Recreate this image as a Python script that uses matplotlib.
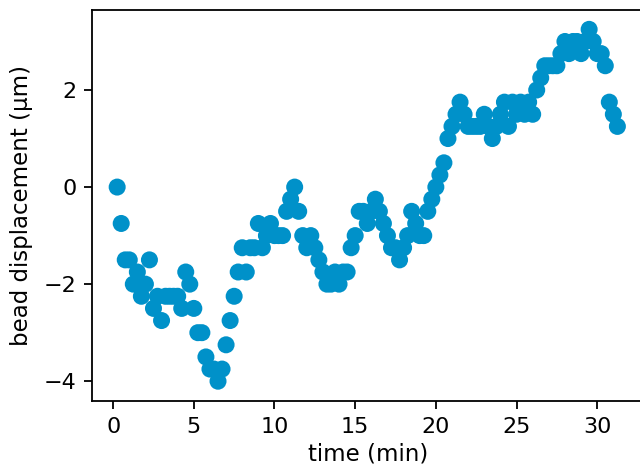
import matplotlib
matplotlib.use("Agg")
import matplotlib.pyplot as plt

time_min = [0.25, 0.5, 0.75, 1.0, 1.25, 1.5, 1.75, 2.0, 2.25, 2.5, 2.75, 3.0, 3.25, 3.5, 3.75, 4.0,
            4.25, 4.5, 4.75, 5.0, 5.25, 5.5, 5.75, 6.0, 6.25, 6.5, 6.75, 7.0, 7.25, 7.5, 7.75, 8.0,
            8.25, 8.5, 8.75, 9.0, 9.25, 9.5, 9.75, 10.0, 10.25, 10.5, 10.75, 11.0, 11.25, 11.5, 11.75, 12.0,
            12.25, 12.5, 12.75, 13.0, 13.25, 13.5, 13.75, 14.0, 14.25, 14.5, 14.75, 15.0, 15.25, 15.5, 15.75, 16.0,
            16.25, 16.5, 16.75, 17.0, 17.25, 17.5, 17.75, 18.0, 18.25, 18.5, 18.75, 19.0, 19.25, 19.5, 19.75, 20.0,
            20.25, 20.5, 20.75, 21.0, 21.25, 21.5, 21.75, 22.0, 22.25, 22.5, 22.75, 23.0, 23.25, 23.5, 23.75, 24.0,
            24.25, 24.5, 24.75, 25.0, 25.25, 25.5, 25.75, 26.0, 26.25, 26.5, 26.75, 27.0, 27.25, 27.5, 27.75, 28.0,
            28.25, 28.5, 28.75, 29.0, 29.25, 29.5, 29.75, 30.0, 30.25, 30.5, 30.75, 31.0, 31.25]

displacement_um = [0.0, -0.75, -1.5, -1.5, -2.0, -1.75, -2.25, -2.0, -1.5, -2.5, -2.25, -2.75, -2.25, -2.25, -2.25, -2.25,
                   -2.5, -1.75, -2.0, -2.5, -3.0, -3.0, -3.5, -3.75, -3.75, -4.0, -3.75, -3.25, -2.75, -2.25, -1.75, -1.25,
                   -1.75, -1.25, -1.25, -0.75, -1.25, -1.0, -0.75, -1.0, -1.0, -1.0, -0.5, -0.25, 0.0, -0.5, -1.0, -1.25,
                   -1.0, -1.25, -1.5, -1.75, -2.0, -2.0, -1.75, -2.0, -1.75, -1.75, -1.25, -1.0, -0.5, -0.5, -0.75, -0.5,
                   -0.25, -0.5, -0.75, -1.0, -1.25, -1.25, -1.5, -1.25, -1.0, -0.5, -0.75, -1.0, -1.0, -0.5, -0.25, 0.0,
                   0.25, 0.5, 1.0, 1.25, 1.5, 1.75, 1.5, 1.25, 1.25, 1.25, 1.25, 1.5, 1.25, 1.0, 1.25, 1.5,
                   1.75, 1.25, 1.75, 1.5, 1.75, 1.5, 1.75, 1.5, 2.0, 2.25, 2.5, 2.5, 2.5, 2.5, 2.75, 3.0,
                   2.75, 3.0, 3.0, 2.75, 3.0, 3.25, 3.0, 2.75, 2.75, 2.5, 1.75, 1.5, 1.25]

x_ticks = [0, 5, 10, 15, 20, 25, 30]
y_ticks = [-4, -2, 0, 2]

fig = plt.figure(figsize=(6.4, 4.73), dpi=100)
ax = fig.add_axes([0.144, 0.152, 0.861, 0.827])
ax.scatter(time_min, displacement_um, s=150, color="#0091c9", edgecolors="none", zorder=2)
ax.set_xlim(-1.3, 32.85)
ax.set_ylim(-4.41, 3.65)
ax.set_xticks(x_ticks)
ax.set_yticks(y_ticks)
ax.set_xticklabels([str(v) for v in x_ticks])
ax.set_yticklabels(["\u2212" + str(-v) if v < 0 else str(v) for v in y_ticks])
ax.tick_params(labelsize=16, length=5.6, width=1.3, pad=5.6)
ax.set_xlabel("time (min)", fontsize=16.5, labelpad=4)
ax.set_ylabel("bead displacement (\u00b5m)", fontsize=16.5, labelpad=8)
for side in ["left", "bottom", "top", "right"]:
    ax.spines[side].set_linewidth(1.3)
fig.savefig("out.png", dpi=100)
